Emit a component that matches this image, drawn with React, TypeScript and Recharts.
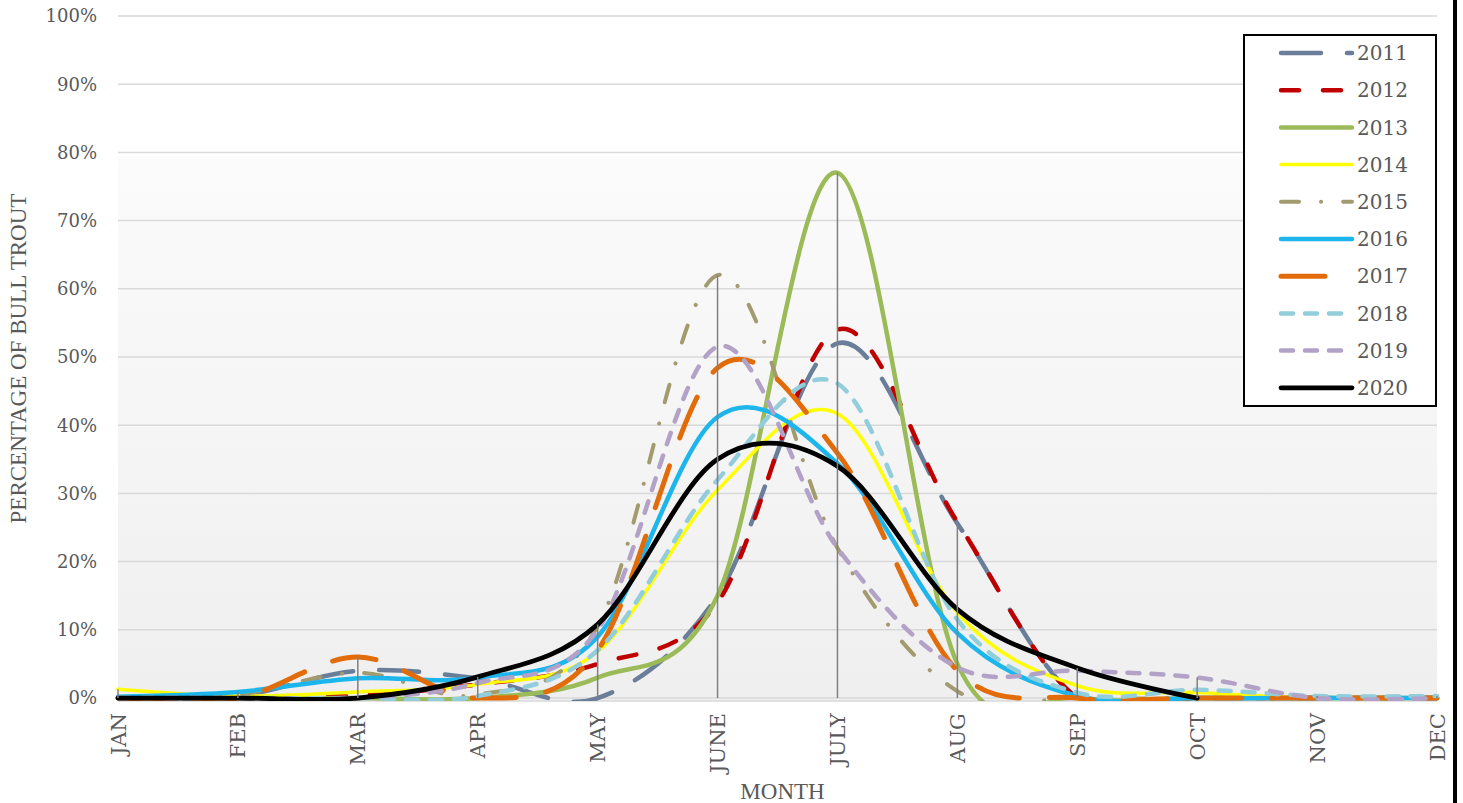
import React from 'react';
import { LineChart, Line, XAxis, YAxis, CartesianGrid, ReferenceLine, Legend } from 'recharts';

const months = ['JAN', 'FEB', 'MAR', 'APR', 'MAY', 'JUNE', 'JULY', 'AUG', 'SEP', 'OCT', 'NOV', 'DEC'];

const s2011 = [0, 0.3, 4.0, 2.9, 0, 15, 52, 25.6, 0, 0, 0, 0];
const s2012 = [0, 0, 0.4, 2.0, 5.0, 14, 54, 25.8, 0, 0, 0, 0];
const s2013 = [0, 0, 0, 0, 3, 15, 77, 5, 0, 0, 0, 0];
const s2014 = [1.3, 0.3, 0.9, 2.0, 6.8, 30.5, 41.7, 12.5, 1.8, 0.8, 0, 0];
const s2015 = [0, 0.5, 3.7, 0.5, 10.5, 62, 22, 1, 0, 0, 0, 0];
const s2016 = [0.2, 0.9, 2.9, 3.0, 9.0, 41.2, 34.4, 9.5, 0.3, 0, 0, 0];
const s2017 = [0, 0, 6.0, 0, 7, 48.4, 35.9, 4, 0, 0, 0, 0];
const s2018 = [0, 0, 0, 0.3, 7, 32, 46.1, 11.5, 0.8, 1.2, 0.3, 0.3];
const s2019 = [0, 0, 0, 2.2, 10, 51.5, 22, 4.5, 4, 3, 0, 0];
const s2020 = [0, 0, 0, 3.1, 10.8, 35, 34, 13, 4.4, 0, null, null];

const yTicks = [0, 10, 20, 30, 40, 50, 60, 70, 80, 90, 100];

const series = [
  { key: 'y2011', name: '2011', values: s2011, color: '#6a7e9a', width: 4.5, dash: '40 26' },
  { key: 'y2012', name: '2012', values: s2012, color: '#c00000', width: 4.5, dash: '18 24' },
  { key: 'y2013', name: '2013', values: s2013, color: '#9bbb59', width: 4.5, dash: undefined },
  { key: 'y2014', name: '2014', values: s2014, color: '#ffff00', width: 3.5, dash: undefined },
  { key: 'y2015', name: '2015', values: s2015, color: '#a39b70', width: 4, dash: '18 22 0.1 22' },
  { key: 'y2016', name: '2016', values: s2016, color: '#1cb5ec', width: 4.5, dash: undefined },
  { key: 'y2017', name: '2017', values: s2017, color: '#e36c0a', width: 5, dash: '44 30' },
  { key: 'y2018', name: '2018', values: s2018, color: '#92cddc', width: 4.5, dash: '12 12' },
  { key: 'y2019', name: '2019', values: s2019, color: '#b3a2c7', width: 4.5, dash: '12 12' },
  { key: 'y2020', name: '2020', values: s2020, color: '#000000', width: 4.8, dash: undefined },
];

const data = months.map((m, i) => {
  const row: any = { month: m };
  series.forEach((s) => {
    row[s.key] = s.values[i];
  });
  return row;
});

const maxByMonth = months.map((m, i) => {
  let mx = 0;
  series.forEach((s) => {
    const v = s.values[i];
    if (v != null && v > mx) mx = v;
  });
  return { month: m, max: mx };
});

// Catmull-Rom (cardinal, tension 0) curve factory, similar to Excel smoothing
function catmullRom(context: any) {
  const k = 1 / 6;
  let x0: number, y0: number, x1: number, y1: number, x2: number, y2: number, pt = 0;
  let line = NaN as any;
  const seg = (x: number, y: number) => {
    context.bezierCurveTo(
      x1 + k * (x2 - x0),
      y1 + k * (y2 - y0),
      x2 + k * (x1 - x),
      y2 + k * (y1 - y),
      x2,
      y2
    );
  };
  return {
    areaStart() { line = 0; },
    areaEnd() { line = NaN; },
    lineStart() {
      x0 = x1 = x2 = y0 = y1 = y2 = NaN;
      pt = 0;
    },
    lineEnd() {
      switch (pt) {
        case 2: context.lineTo(x2, y2); break;
        case 3: seg(x1, y1); break;
      }
      if (line || (line !== 0 && pt === 1)) context.closePath();
      line = 1 - line;
    },
    point(x: number, y: number) {
      x = +x; y = +y;
      switch (pt) {
        case 0: pt = 1; line ? context.lineTo(x, y) : context.moveTo(x, y); break;
        case 1: pt = 2; x1 = x; y1 = y; break;
        case 2: pt = 3; seg(x, y); break;
        default: seg(x, y); break;
      }
      x0 = x1; x1 = x2; x2 = x;
      y0 = y1; y1 = y2; y2 = y;
    },
  };
}

const TEXT = '#595959';
const TICK_FONT = '"DejaVu Serif", serif';
const TITLE_FONT = '"Liberation Serif", serif';

const XTick = (props: any) => {
  const { x, y, payload } = props;
  return (
    <text
      transform={`translate(${x},${y}) rotate(-90)`}
      textAnchor="end"
      dy="0.36em"
      fontFamily={TICK_FONT}
      fontSize={21}
      fill={TEXT}
    >
      {payload.value}
    </text>
  );
};

const LegendBox = () => {
  const rowH = 37.2;
  return (
    <div style={{ width: 194, height: 373, boxSizing: 'border-box', border: '2px solid #000', background: '#fff' }}>
      <svg width={190} height={369} style={{ display: 'block' }}>
        {series.map((s, i) => {
          const cy = 17 + rowH * i;
          return (
            <g key={s.key}>
              <line
                x1={36}
                x2={107}
                y1={cy}
                y2={cy}
                stroke={s.color}
                strokeWidth={s.width}
                strokeDasharray={s.dash}
                strokeLinecap="round"
              />
              <text x={112} y={cy} dy="0.36em" fontFamily={TICK_FONT} fontSize={20} fill={TEXT}>
                {s.name}
              </text>
            </g>
          );
        })}
      </svg>
    </div>
  );
};

export default function App() {
  const W = 1463;
  const H = 803;
  return (
    <div style={{ position: 'absolute', left: 0, top: 0, width: W, height: H, background: '#fff', overflow: 'hidden' }}>
      <LineChart width={W} height={H} data={data} margin={{ top: 16, right: 26, bottom: 0, left: 0 }}>
        <defs>
          <linearGradient id="plotBg" x1="0" y1="0" x2="0" y2="1">
            <stop offset="0" stopColor="#ffffff" />
            <stop offset="0.2" stopColor="#ffffff" />
            <stop offset="0.21" stopColor="#fbfbfb" />
            <stop offset="1" stopColor="#efefef" />
          </linearGradient>
        </defs>
        <CartesianGrid vertical={false} stroke="#d9d9d9" strokeWidth={1.5} fill="url(#plotBg)" fillOpacity={1} />
        <XAxis
          dataKey="month"
          interval={0}
          axisLine={false}
          tickLine={false}
          tickSize={0}
          tickMargin={12}
          height={101.9}
          tick={<XTick />}
          label={{
            value: 'MONTH',
            position: 'insideBottom',
            offset: 4,
            dx: 5,
            style: { fontFamily: TITLE_FONT, fontSize: 23, fill: TEXT },
          }}
        />
        <YAxis
          width={118}
          domain={[-0.45, 100]}
          ticks={yTicks}
          allowDataOverflow
          axisLine={false}
          tickLine={false}
          tickSize={0}
          tickMargin={21}
          tickFormatter={(v: number) => `${v}%`}
          tick={{ fontFamily: TICK_FONT, fontSize: 18, fill: TEXT }}
          label={{
            value: 'PERCENTAGE OF BULL TROUT',
            angle: -90,
            position: 'insideLeft',
            offset: 18,
            style: { fontFamily: TITLE_FONT, fontSize: 23, fill: TEXT, textAnchor: 'middle' },
          }}
        />
        {series.map((s) => (
          <Line
            key={s.key}
            dataKey={s.key}
            name={s.name}
            type={catmullRom as any}
            stroke={s.color}
            strokeWidth={s.width}
            strokeDasharray={s.dash}
            strokeLinecap="round"
            strokeLinejoin="round"
            dot={false}
            activeDot={false}
            isAnimationActive={false}
            connectNulls={false}
          />
        ))}
        {maxByMonth.map((d) => (
          <ReferenceLine
            key={'drop-' + d.month}
            segment={[
              { x: d.month, y: 0 },
              { x: d.month, y: d.max },
            ]}
            stroke="#808080"
            strokeWidth={1.5}
            ifOverflow="visible"
          />
        ))}
        <Legend
          layout="horizontal"
          align="center"
          verticalAlign="middle"
          width={194}
          height={373}
          wrapperStyle={{ left: 1243, top: 34, width: 194, height: 373 }}
          content={() => <LegendBox />}
        />
      </LineChart>
      <div style={{ position: 'absolute', left: 1453, top: 0, width: 4, height: H, background: '#000' }} />
    </div>
  );
}
